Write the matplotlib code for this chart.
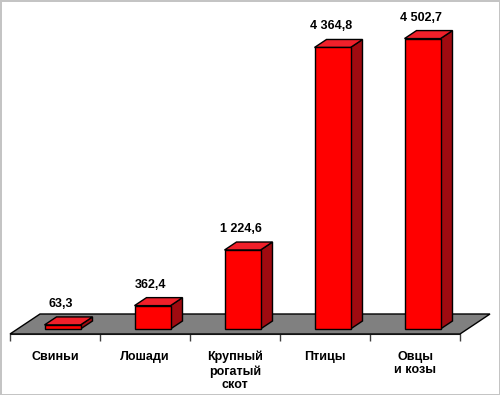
import matplotlib
matplotlib.use("Agg")
import matplotlib.pyplot as plt
import matplotlib.transforms as mtransforms
from matplotlib.patches import Polygon

categories = ["Свиньи", "Лошади", "Крупный\nрогатый\nскот", "Птицы", "Овцы\nи козы"]
values = [63.3, 362.4, 1224.6, 4364.8, 4502.7]

FRONT = "#ff0000"
TOP = "#f0202a"
SIDE = "#a00a10"
FLOOR = "#808080"

plt.rcParams["font.family"] = ["Liberation Sans", "DejaVu Sans"]

W, H = 500, 395
fig = plt.figure(figsize=(W / 100, H / 100), dpi=100)
fig.patch.set_edgecolor("#c4c4c4")
fig.patch.set_linewidth(2)

# axes: x from floor front-left (10 px) to front-right (460 px), y=0 at floor front (334 px)
ax = fig.add_axes([10 / W, (H - 334) / H, 450 / W, 322.5 / H])
ax.set_xlim(-0.5, len(categories) - 0.5)
ax.set_ylim(0, 5000)
ax.patch.set_alpha(0)

# depth vector in pixels (floor back edge)
DX, DY = 30, 20


def shifted(d):
    return ax.transData + mtransforms.Affine2D().translate(DX * d, DY * d)


def quad(pts, trans_list, color):
    # each vertex goes through its own depth transform, then drawn in display coords
    disp = [t.transform(p) for p, t in zip(pts, trans_list)]
    poly = Polygon(disp, closed=True, facecolor=color, edgecolor="black",
                   linewidth=1, transform=None, clip_on=False)
    fig.add_artist(poly)


fig.canvas.draw()
x0, x1 = ax.get_xlim()

# floor
t0, t1 = shifted(0), shifted(1)
quad([(x0, 0), (x1, 0), (x1, 0), (x0, 0)], [t0, t0, t1, t1], FLOOR)

d_front, d_back = 0.25, 0.65
bw = 0.4
tf, tb = shifted(d_front), shifted(d_back)
for i, v in enumerate(values):
    l, r = i - bw / 2, i + bw / 2
    quad([(r, 0), (r, v), (r, v), (r, 0)], [tf, tf, tb, tb], SIDE)
    quad([(l, v), (r, v), (r, v), (l, v)], [tf, tf, tb, tb], TOP)
    quad([(l, 0), (r, 0), (r, v), (l, v)], [tf, tf, tf, tf], FRONT)
    label = f"{v:,.1f}".replace(",", " ").replace(".", ",")
    tl = ax.transData + mtransforms.Affine2D().translate(DX * 0.2, 26)
    ax.text(i, v, label, transform=tl, ha="center", va="center",
            fontsize=9, fontweight="bold")

for s in ["top", "right", "left"]:
    ax.spines[s].set_visible(False)
ax.spines["bottom"].set_color("#404040")
ax.set_yticks([])
ax.set_xticks([i - 0.5 for i in range(len(categories) + 1)])
ax.set_xticklabels([])
ax.tick_params(axis="x", which="major", length=5, color="#404040", width=1)
ax.set_xticks(range(len(categories)), minor=True)
ax.set_xticklabels(categories, minor=True, fontsize=9, fontweight="bold",
                   linespacing=1.2)
ax.tick_params(axis="x", which="minor", length=0, pad=12)

fig.savefig("out.png", dpi=100)
